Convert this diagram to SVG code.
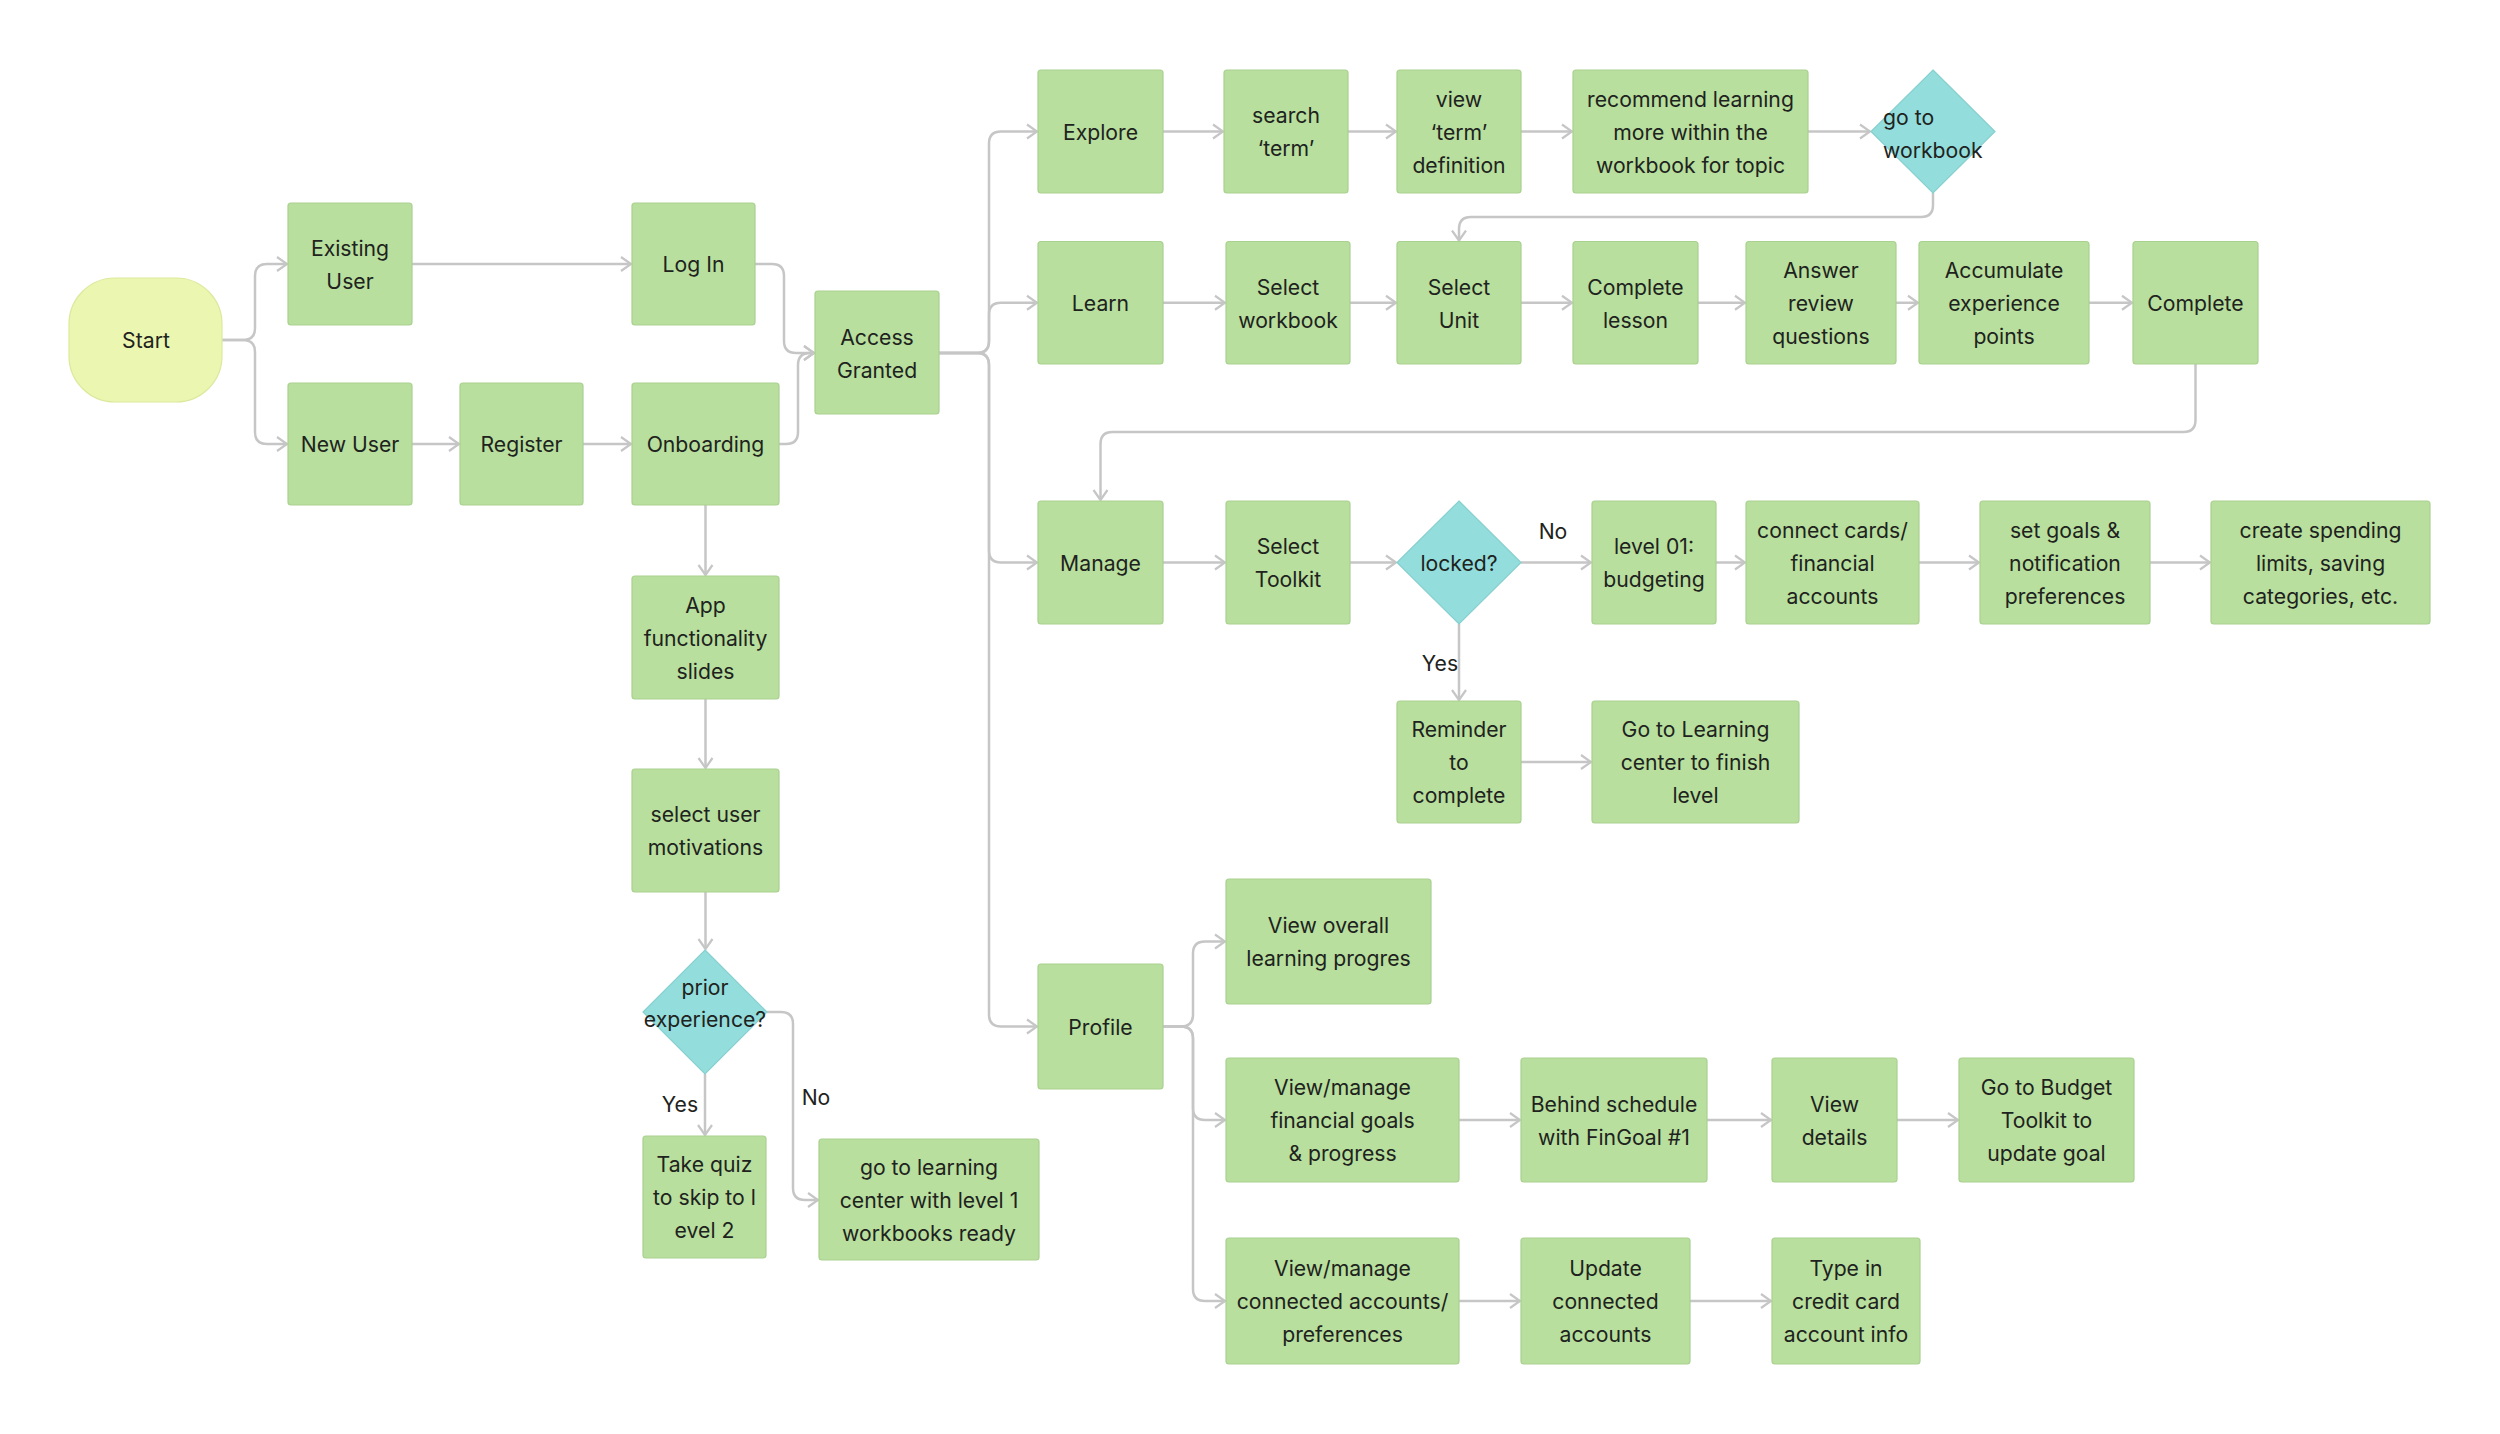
<svg xmlns="http://www.w3.org/2000/svg" width="2500" height="1434" viewBox="0 0 2500 1434">
<style>
.n{fill:#b8df9d;stroke:#a9d18f;stroke-width:1.2}
.s{fill:#ebf6b0;stroke:#dbe99c;stroke-width:1.2}
.d{fill:#93dddc;stroke:#86d0cf;stroke-width:1.2}
text{font-family:Inter,"Noto Sans","Liberation Sans",sans-serif;font-size:21.2px;fill:#1e2320;text-anchor:middle;dominant-baseline:central}
.l{text-anchor:start}
.c path{fill:none;stroke:#c6c6c6;stroke-width:2.5;marker-end:url(#a)}
</style>
<defs>
<marker id="a" markerUnits="userSpaceOnUse" markerWidth="14" markerHeight="18" refX="11" refY="8" orient="auto" viewBox="0 0 14 16">
<path d="M1,1 L11,8 L1,15" fill="none" stroke="#c6c6c6" stroke-width="2.2"/>
</marker>
</defs>
<rect width="2500" height="1434" fill="#ffffff"/>
<g class="c" id="connectors">
<path d="M222,340 H243 Q255,340 255,328 V276 Q255,264 267,264 H287"/>
<path d="M222,340 H243 Q255,340 255,352 V432 Q255,444 267,444 H287"/>
<path d="M412,264 H631"/>
<path d="M755,264 H772 Q784,264 784,276 V341 Q784,353 796,353 H814"/>
<path d="M412,444 H459"/>
<path d="M583,444 H631"/>
<path d="M779,444 H786 Q798,444 798,432 V365 Q798,353 810,353 H814"/>
<path d="M705.5,505 V575"/>
<path d="M705.5,699 V768"/>
<path d="M705.5,892 V949"/>
<path d="M705,1074 V1135"/>
<path d="M767,1012 H781 Q793,1012 793,1024 V1188 Q793,1200 805,1200 H818"/>
<path d="M939,353 H977 Q989,353 989,341 V143.5 Q989,131.5 1001,131.5 H1037"/>
<path d="M939,353 H977 Q989,353 989,341 V314.75 Q989,302.75 1001,302.75 H1037"/>
<path d="M939,353 H977 Q989,353 989,365 V550.5 Q989,562.5 1001,562.5 H1037"/>
<path d="M939,353 H977 Q989,353 989,365 V1014.5 Q989,1026.5 1001,1026.5 H1037"/>
<path d="M1163,131.5 H1223"/>
<path d="M1348,131.5 H1396"/>
<path d="M1521,131.5 H1572"/>
<path d="M1808,131.5 H1870"/>
<path d="M1933,193 V205 Q1933,217 1921,217 H1471 Q1459,217 1459,229 V240.5"/>
<path d="M1163,302.75 H1225"/>
<path d="M1350,302.75 H1396"/>
<path d="M1521,302.75 H1572"/>
<path d="M1698,302.75 H1745"/>
<path d="M1896,302.75 H1918"/>
<path d="M2089,302.75 H2132"/>
<path d="M2195.5,364 V420 Q2195.5,432 2183.5,432 H1112.5 Q1100.5,432 1100.5,444 V500"/>
<path d="M1163,562.5 H1225"/>
<path d="M1350,562.5 H1396"/>
<path d="M1521,562.5 H1591"/>
<path d="M1716,562.5 H1745"/>
<path d="M1919,562.5 H1979"/>
<path d="M2150,562.5 H2210"/>
<path d="M1459,624 V700"/>
<path d="M1521,762 H1591"/>
<path d="M1163,1026.5 H1181 Q1193,1026.5 1193,1014.5 V953.5 Q1193,941.5 1205,941.5 H1225"/>
<path d="M1163,1026.5 H1181 Q1193,1026.5 1193,1038.5 V1108 Q1193,1120 1205,1120 H1225"/>
<path d="M1163,1026.5 H1181 Q1193,1026.5 1193,1038.5 V1289 Q1193,1301 1205,1301 H1225"/>
<path d="M1459,1120 H1520"/>
<path d="M1707,1120 H1771"/>
<path d="M1897,1120 H1958"/>
<path d="M1459,1301 H1520"/>
<path d="M1690,1301 H1771"/>
</g>
<g id="labels">
<text x="680" y="1104">Yes</text>
<text x="816" y="1097">No</text>
<text x="1553" y="531">No</text>
<text x="1440" y="663">Yes</text>
</g>
<g id="start"><rect class="s" x="69" y="278" width="153" height="124" rx="46"/><text x="146" y="340">Start</text></g>
<g id="existing-user"><rect class="n" x="288" y="203" width="124" height="122" rx="3"/><text x="350" y="247.5">Existing</text><text x="350" y="280.5">User</text></g>
<g id="log-in"><rect class="n" x="632" y="203" width="123" height="122" rx="3"/><text x="693.5" y="264">Log In</text></g>
<g id="new-user"><rect class="n" x="288" y="383" width="124" height="122" rx="3"/><text x="350" y="444">New User</text></g>
<g id="register"><rect class="n" x="460" y="383" width="123" height="122" rx="3"/><text x="521.5" y="444">Register</text></g>
<g id="onboarding"><rect class="n" x="632" y="383" width="147" height="122" rx="3"/><text x="705.5" y="444">Onboarding</text></g>
<g id="access-granted"><rect class="n" x="815" y="291" width="124" height="123" rx="3"/><text x="877" y="336.5">Access</text><text x="877" y="369.5">Granted</text></g>
<g id="app-slides"><rect class="n" x="632" y="576" width="147" height="123" rx="3"/><text x="705.5" y="605">App</text><text x="705.5" y="638">functionality</text><text x="705.5" y="671">slides</text></g>
<g id="motivations"><rect class="n" x="632" y="769" width="147" height="123" rx="3"/><text x="705.5" y="814">select user</text><text x="705.5" y="847">motivations</text></g>
<g id="prior-experience"><polygon class="d" points="705,950 767,1012 705,1074 643,1012"/><text x="705" y="987">prior</text><text x="705" y="1019">experience?</text></g>
<g id="take-quiz"><rect class="n" x="643" y="1136" width="123" height="122" rx="3"/><text x="704.5" y="1164">Take quiz</text><text x="704.5" y="1197">to skip to l</text><text x="704.5" y="1230">evel 2</text></g>
<g id="go-learning-center"><rect class="n" x="819" y="1139" width="220" height="121" rx="3"/><text x="929" y="1167">go to learning</text><text x="929" y="1200">center with level 1</text><text x="929" y="1233">workbooks ready</text></g>
<g id="explore"><rect class="n" x="1038" y="70" width="125" height="123" rx="3"/><text x="1100.5" y="131.5">Explore</text></g>
<g id="search-term"><rect class="n" x="1224" y="70" width="124" height="123" rx="3"/><text x="1286" y="115">search</text><text x="1286" y="148">‘term’</text></g>
<g id="view-term"><rect class="n" x="1397" y="70" width="124" height="123" rx="3"/><text x="1459" y="98.5">view</text><text x="1459" y="131.5">‘term’</text><text x="1459" y="164.5">definition</text></g>
<g id="recommend"><rect class="n" x="1573" y="70" width="235" height="123" rx="3"/><text x="1690.5" y="98.5">recommend learning</text><text x="1690.5" y="131.5">more within the</text><text x="1690.5" y="164.5">workbook for topic</text></g>
<g id="go-to-workbook"><polygon class="d" points="1933,70 1995,131.5 1933,193 1871,131.5"/><text class="l" x="1883" y="116.5">go to</text><text class="l" x="1883" y="149.5">workbook</text></g>
<g id="learn"><rect class="n" x="1038" y="241.5" width="125" height="122.5" rx="3"/><text x="1100.5" y="302.75">Learn</text></g>
<g id="select-workbook"><rect class="n" x="1226" y="241.5" width="124" height="122.5" rx="3"/><text x="1288" y="286.5">Select</text><text x="1288" y="319.5">workbook</text></g>
<g id="select-unit"><rect class="n" x="1397" y="241.5" width="124" height="122.5" rx="3"/><text x="1459" y="286.5">Select</text><text x="1459" y="319.5">Unit</text></g>
<g id="complete-lesson"><rect class="n" x="1573" y="241.5" width="125" height="122.5" rx="3"/><text x="1635.5" y="286.5">Complete</text><text x="1635.5" y="319.5">lesson</text></g>
<g id="answer-review"><rect class="n" x="1746" y="241.5" width="150" height="122.5" rx="3"/><text x="1821" y="270">Answer</text><text x="1821" y="303">review</text><text x="1821" y="336">questions</text></g>
<g id="accumulate"><rect class="n" x="1919" y="241.5" width="170" height="122.5" rx="3"/><text x="2004" y="270">Accumulate</text><text x="2004" y="303">experience</text><text x="2004" y="336">points</text></g>
<g id="complete"><rect class="n" x="2133" y="241.5" width="125" height="122.5" rx="3"/><text x="2195.5" y="302.75">Complete</text></g>
<g id="manage"><rect class="n" x="1038" y="501" width="125" height="123" rx="3"/><text x="1100.5" y="562.5">Manage</text></g>
<g id="select-toolkit"><rect class="n" x="1226" y="501" width="124" height="123" rx="3"/><text x="1288" y="546">Select</text><text x="1288" y="579">Toolkit</text></g>
<g id="locked"><polygon class="d" points="1459,501 1521,562.5 1459,624 1397,562.5"/><text x="1459" y="562.5">locked?</text></g>
<g id="level-01"><rect class="n" x="1592" y="501" width="124" height="123" rx="3"/><text x="1654" y="546">level 01:</text><text x="1654" y="579">budgeting</text></g>
<g id="connect-cards"><rect class="n" x="1746" y="501" width="173" height="123" rx="3"/><text x="1832.5" y="529.5">connect cards/</text><text x="1832.5" y="562.5">financial</text><text x="1832.5" y="595.5">accounts</text></g>
<g id="set-goals"><rect class="n" x="1980" y="501" width="170" height="123" rx="3"/><text x="2065" y="529.5">set goals &amp;</text><text x="2065" y="562.5">notification</text><text x="2065" y="595.5">preferences</text></g>
<g id="create-spending"><rect class="n" x="2211" y="501" width="219" height="123" rx="3"/><text x="2320.5" y="529.5">create spending</text><text x="2320.5" y="562.5">limits, saving</text><text x="2320.5" y="595.5">categories, etc.</text></g>
<g id="reminder"><rect class="n" x="1397" y="701" width="124" height="122" rx="3"/><text x="1459" y="729">Reminder</text><text x="1459" y="762">to</text><text x="1459" y="795">complete</text></g>
<g id="go-learning-finish"><rect class="n" x="1592" y="701" width="207" height="122" rx="3"/><text x="1695.5" y="729">Go to Learning</text><text x="1695.5" y="762">center to finish</text><text x="1695.5" y="795">level</text></g>
<g id="profile"><rect class="n" x="1038" y="964" width="125" height="125" rx="3"/><text x="1100.5" y="1026.5">Profile</text></g>
<g id="view-overall"><rect class="n" x="1226" y="879" width="205" height="125" rx="3"/><text x="1328.5" y="925">View overall</text><text x="1328.5" y="958">learning progres</text></g>
<g id="view-financial-goals"><rect class="n" x="1226" y="1058" width="233" height="124" rx="3"/><text x="1342.5" y="1087">View/manage</text><text x="1342.5" y="1120">financial goals</text><text x="1342.5" y="1153">&amp; progress</text></g>
<g id="behind-schedule"><rect class="n" x="1521" y="1058" width="186" height="124" rx="3"/><text x="1614" y="1103.5">Behind schedule</text><text x="1614" y="1136.5">with FinGoal #1</text></g>
<g id="view-details"><rect class="n" x="1772" y="1058" width="125" height="124" rx="3"/><text x="1834.5" y="1103.5">View</text><text x="1834.5" y="1136.5">details</text></g>
<g id="go-budget"><rect class="n" x="1959" y="1058" width="175" height="124" rx="3"/><text x="2046.5" y="1087">Go to Budget</text><text x="2046.5" y="1120">Toolkit to</text><text x="2046.5" y="1153">update goal</text></g>
<g id="view-connected"><rect class="n" x="1226" y="1238" width="233" height="126" rx="3"/><text x="1342.5" y="1268">View/manage</text><text x="1342.5" y="1301">connected accounts/</text><text x="1342.5" y="1334">preferences</text></g>
<g id="update-connected"><rect class="n" x="1521" y="1238" width="169" height="126" rx="3"/><text x="1605.5" y="1268">Update</text><text x="1605.5" y="1301">connected</text><text x="1605.5" y="1334">accounts</text></g>
<g id="type-in"><rect class="n" x="1772" y="1238" width="148" height="126" rx="3"/><text x="1846" y="1268">Type in</text><text x="1846" y="1301">credit card</text><text x="1846" y="1334">account info</text></g>
</svg>
